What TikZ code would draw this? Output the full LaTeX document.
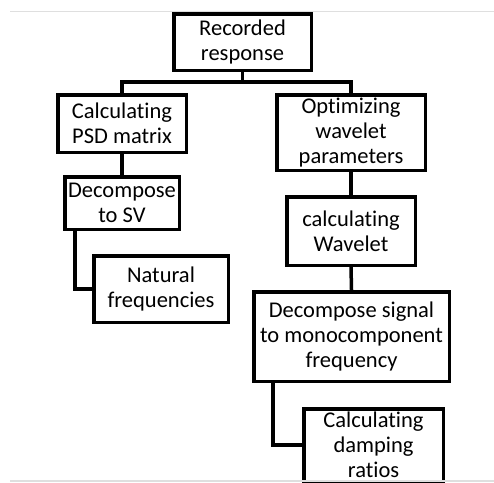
\documentclass[tikz,border=0pt]{standalone}
\usepackage{fontspec}
\setmainfont{Carlito}[Ligatures=NoCommon]
\begin{document}
\begin{tikzpicture}[x=1pt,y=-1pt,
  box/.style={draw, line width=3.5pt, inner sep=0pt, align=center,
    font=\fontsize{22.5}{25}\selectfont},
  link/.style={line width=3.5pt}]
\useasboundingbox (0,0) rectangle (494,482);
\clip (0,0) rectangle (494,482);
\fill[white] (0,0) rectangle (494,482);
\node[box, minimum width=137.5pt, minimum height=56.5pt] (rec) at (242.5,42) {Recorded\\response};
\node[box, minimum width=128.5pt, minimum height=57.5pt] (psd) at (122,123.5) {Calculating\\PSD matrix};
\node[box, minimum width=148.5pt, minimum height=75.5pt] (opt) at (351,132.5) {Optimizing\\wavelet\\parameters};
\node[box, minimum width=114.5pt, minimum height=52.5pt] (dec) at (122,203) {Decompose\\to SV};
\node[box, minimum width=134.5pt, minimum height=66.5pt] (nat) at (161,289) {Natural\\frequencies};
\node[box, minimum width=128.5pt, minimum height=68.5pt] (wav) at (351,231) {calculating\\Wavelet};
\node[box, minimum width=195.5pt, minimum height=89.5pt] (ds) at (351.5,336.5) {Decompose signal\\to monocomponent\\frequency};
\node[box, minimum width=139.5pt, minimum height=72.5pt] (damp) at (373.5,445) {Calculating\\damping\\ratios};
\coordinate (bar) at (242.5,82);
\draw[link] (rec.south) -- (bar);
\draw[link] (bar) -| (psd.north);
\draw[link] (bar) -| (opt.north);
\draw[link] (psd.south) -- (dec.north);
\draw[link] ([xshift=12pt]dec.south west) |- (nat.west);
\draw[link] (opt.south) -- (wav.north);
\draw[link] (wav.south) -- (ds.north);
\draw[link] ([xshift=21pt]ds.south west) |- (damp.west);
\coordinate (gl1) at (10,11.5);
\coordinate (gr1) at (494,11.5);
\coordinate (gl2) at (10,481);
\coordinate (gr2) at (494,481);
\draw[gray!25, line width=1.5pt] (gl1) -- (gr1);
\draw[gray!25, line width=2pt] (gl2) -- (gr2);
\end{tikzpicture}
\end{document}
